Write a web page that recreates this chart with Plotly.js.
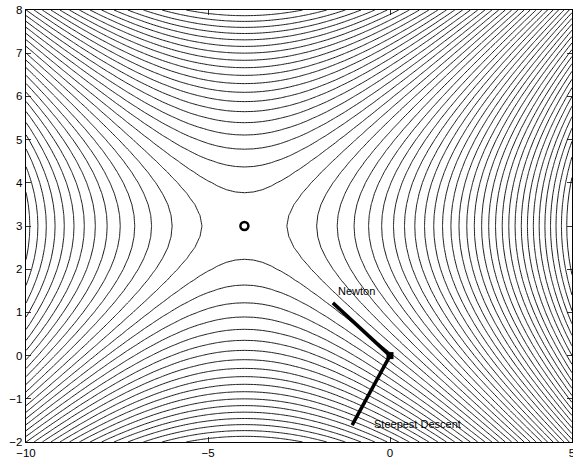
<!DOCTYPE html>
<html>
<head>
<meta charset="utf-8">
<script src="https://cdn.plot.ly/plotly-3.0.1.min.js"></script>
<style>body{margin:0;padding:0;background:#fff;}#chart{width:573px;height:460px;}</style>
</head>
<body>
<div id="chart"></div>
<script>
// Quadratic saddle: f = A*(x-cx)^2 + B*(y-cy)^2
var saddleX = [-4];
var saddleY = [3];
var coefA = 1;
var coefB = -2;
var xRange = [-10, 5];
var yRange = [-2, 8];
var gridStep = 0.25;
var levelCount = 50;

// Current point and search directions
var pointX = [0];
var pointY = [0];
var newtonX = [0, -1.57];
var newtonY = [0, 1.22];
var steepX = [0, -1.04];
var steepY = [0, -1.61];

var labelText = ["Newton", "Steepest Descent"];
var labelX = [-0.93, -0.49];
var labelY = [1.50, -1.58];

var xTicks = [-10, -5, 0, 5];
var yTicks = [-2, -1, 0, 1, 2, 3, 4, 5, 6, 7, 8];

// grid for the surface
var gx = [], gy = [];
for (var i = 0; xRange[0] + i * gridStep <= xRange[1] + 1e-9; i++) gx.push(xRange[0] + i * gridStep);
for (var j = 0; yRange[0] + j * gridStep <= yRange[1] + 1e-9; j++) gy.push(yRange[0] + j * gridStep);
var gz = [], zmin = Infinity, zmax = -Infinity;
for (var j = 0; j < gy.length; j++) {
  var row = [];
  for (var i = 0; i < gx.length; i++) {
    var v = coefA * Math.pow(gx[i] - saddleX[0], 2) + coefB * Math.pow(gy[j] - saddleY[0], 2);
    row.push(v);
    if (v < zmin) zmin = v;
    if (v > zmax) zmax = v;
  }
  gz.push(row);
}
var lvlSize = (zmax - zmin) / (levelCount + 1);

var traces = [
  {
    type: 'contour', x: gx, y: gy, z: gz,
    autocontour: false,
    contours: {start: zmin + lvlSize, end: zmax - lvlSize * 0.5, size: lvlSize, coloring: 'none'},
    line: {color: 'black', width: 0.9, smoothing: 0},
    showscale: false, hoverinfo: 'skip'
  },
  {type: 'scatter', mode: 'lines', x: newtonX, y: newtonY, line: {color: 'black', width: 3.5}, hoverinfo: 'skip'},
  {type: 'scatter', mode: 'lines', x: steepX, y: steepY, line: {color: 'black', width: 3.5}, hoverinfo: 'skip'},
  {type: 'scatter', mode: 'markers', x: pointX, y: pointY,
   marker: {symbol: 'square', size: 7, color: 'black'}, hoverinfo: 'skip'},
  {type: 'scatter', mode: 'markers', x: saddleX, y: saddleY,
   marker: {symbol: 'circle-open', size: 8, color: 'black', line: {width: 2.5, color: 'black'}}, hoverinfo: 'skip'}
];

var axisCommon = {
  showgrid: false, zeroline: false, showline: true, linecolor: 'black', linewidth: 1.3,
  mirror: 'ticks', ticks: 'inside', ticklen: 5, tickcolor: 'black', tickwidth: 0.8,
  tickfont: {family: 'Liberation Sans, Arial, sans-serif', size: 11.5, color: 'black'},
  tickmode: 'array', ticklabeloverflow: 'allow'
};

var layout = {
  width: 573, height: 460,
  margin: {l: 26, r: 1, t: 10, b: 18, pad: 0},
  paper_bgcolor: 'white', plot_bgcolor: 'white',
  showlegend: false,
  xaxis: Object.assign({}, axisCommon, {range: xRange, tickvals: xTicks, ticktext: xTicks.map(function(v){return v < 0 ? '\u2212' + (-v) : String(v);})}),
  yaxis: Object.assign({}, axisCommon, {range: yRange, tickvals: yTicks, ticktext: yTicks.map(function(v){return v < 0 ? '\u2212' + (-v) : String(v);})}),
  annotations: [
    {x: labelX[0], y: labelY[0], text: labelText[0], showarrow: false, xanchor: 'center', yanchor: 'middle',
     font: {family: 'Liberation Sans, Arial, sans-serif', size: 11, color: 'black'}},
    {x: labelX[1], y: labelY[1], text: labelText[1], showarrow: false, xanchor: 'left', yanchor: 'middle',
     font: {family: 'Liberation Sans, Arial, sans-serif', size: 11, color: 'black'}}
  ]
};

Plotly.newPlot('chart', traces, layout, {staticPlot: true, displayModeBar: false});
</script>
</body>
</html>
